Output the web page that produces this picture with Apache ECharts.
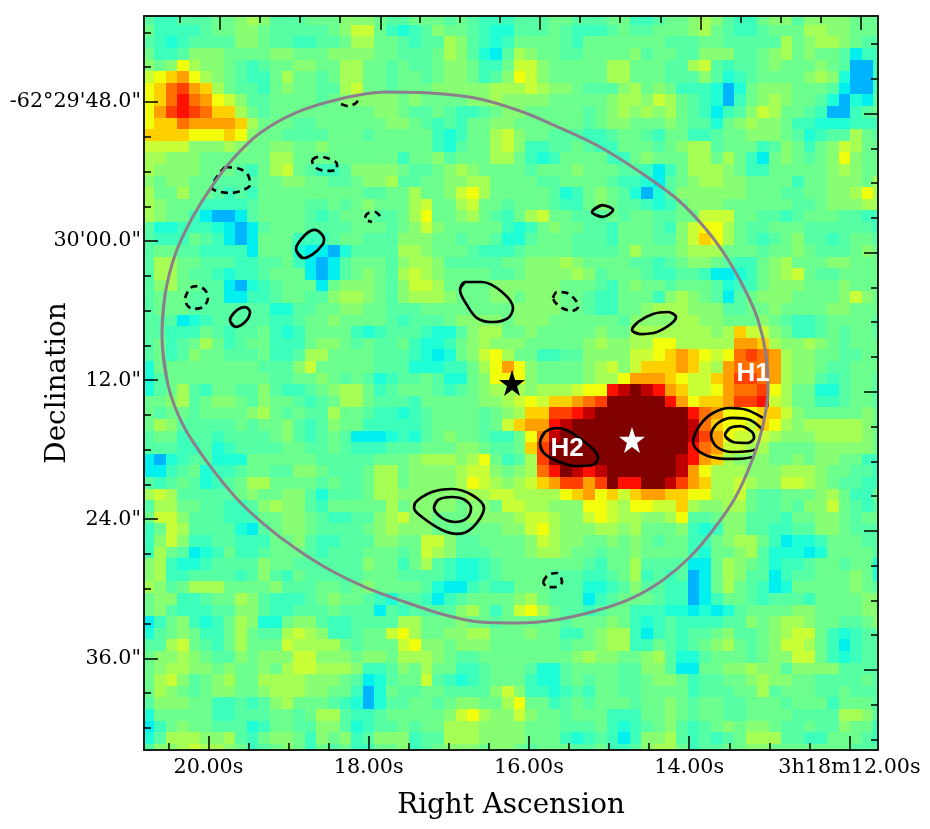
<!DOCTYPE html>
<html>
<head>
<meta charset="utf-8">
<title>Flux map</title>
<style>
  html, body { margin: 0; padding: 0; background: #fff; }
  #chart { width: 930px; height: 829px; }
</style>
<script src="https://cdn.jsdelivr.net/npm/echarts@6/dist/echarts.min.js"></script>
</head>
<body>
<div id="chart"></div>
<script>
// flux level of each map pixel, one base-17 digit per cell, top row first
const fluxRows = [
  '4334445567 6444555666 54 4555454333 4445544455 3345567643 3566466665 55',
  '5333345566 5444445688 53 2346554322 4445433345 4455567543 3455577665 55',
  '4323444466 5443344577 55 4344764323 5555435555 5554445544 4447567765 44',
  '5334666555 5665556666 55 4445764214 7655445555 6455446664 4567565541 33',
  '6569766543 4556655775 54 5445665335 8865555577 5554478434 4565556540 03',
  '89ab976543 3575545775 54 5545665346 9865555577 5554446423 4555567620 03',
  '9acdba7544 3565544785 54 5556666677 7876654446 7565333202 5666555410 03',
  '9acecb9864 4555545666 66 5655556676 6665555567 7687543203 5676554202 14',
  '9bdedcaa75 4555555555 66 5445433456 6555554567 6767543134 6875543003 45',
  '9aacbbbba7 5554455555 56 6543435566 5555554566 5556544256 7665332223 33',
  'aaaa999a96 5544445554 55 5553235578 6554443345 5435533455 6665423447 54',
  '8888666765 5665565555 55 5553245578 6334454335 5545677455 5346535687 55',
  '7766655555 5775555555 55 3556455577 5323555533 5655577575 3156545696 55',
  '7666655543 5785433466 66 5445676555 5455565554 4313577765 3355555676 55',
  '6566554444 5566554456 67 4455667755 5544555543 3214567766 5555355666 57',
  '7557554343 5555555554 45 5755689755 5554235654 2024666666 5554455667 97',
  '7655533334 5555445456 55 5785578554 5554335654 4323566655 5555445666 77',
  '7655310014 5555434555 44 5795567543 5785544454 5544558885 5443455544 33',
  '4223332101 4555444455 54 5686555553 2356554435 5543689975 4455544444 43',
  '4333543101 5553334554 44 6665545542 2455544435 554468a975 4345644345 54',
  '4554433331 5552110244 44 7765554333 4555544445 7555677755 5455654445 65',
  '4775544433 4453101455 54 6776444445 5666765555 4434566543 3567555665 55',
  '4775443233 4555101456 54 7876555544 5666676455 5433443112 3567854455 55',
  '4675544102 3455515666 54 6887555566 6666555435 6554555423 3566655565 55',
  '4555444113 3455446776 54 6777655566 5666554335 5536765414 5666555568 65',
  '4555444444 4224455665 54 4455555555 6666554335 5677766644 5565555665 55',
  '4441234444 4334556555 54 3444566665 6665555554 6666776655 5654334555 54',
  '4433354344 5323555532 34 4432246775 5655555655 777777767a 8865334545 54',
  '4534575345 5333566545 44 5322356766 6555556766 779977777b ba76676545 55',
  '4534655444 5334775555 44 4321256897 5533446666 889aba989c dcb7665544 55',
  '2555555555 4446855555 44 422233579b 9655556786 8aaaba87bc ccb7665445 55',
  '2455555555 5445565454 23 4454225699 9655556779 bbba988abd dcb7664345 54',
  '2457435544 6433456775 34 5554345677 76777899ef gfeba889bc cd97552245 54',
  '5567456654 6554345775 44 4355555667 898aabcdgg gggeb9aabd de87553345 54',
  '5455455556 7545447554 33 2345555456 7aaddefggg gggggecb99 9aa8655555 65',
  '5764444454 5564346553 33 3345555458 abbefggggg gggggfca99 8a97677777 65',
  '4553443444 4564345411 12 3245655433 59cfgggggg gggggfdb98 8876667777 65',
  '4443342344 4455445433 34 4455566544 5adggggggg gggggecb88 7755556666 65',
  '1023442225 5555544444 55 5677767953 47dggggggg ggggfeba76 6655656655 33',
  '1134523345 5446654445 77 5666678865 67cegfefgg ggggfb9777 6667776554 43',
  '4345423457 7555545445 77 5666679876 78abddbdge eggfdba778 7668876544 33',
  '7874444456 5566424445 77 6666667788 77779ab9a8 abbaa99778 5445556753 35',
  '4775544334 6766435555 57 5666656658 8776669987 9988a76677 5445466854 34',
  '5886444333 5566543344 67 8665556666 7887668987 7667944566 4443556654 55',
  '3587444421 4566544445 67 6665555556 6897666776 7555632366 4433446654 44',
  '3686334433 3556433444 66 5588644555 5687665565 6545533567 7531223555 44',
  '3754123533 4555434445 55 4587644455 5677655455 6555532556 7422212555 54',
  '6732234444 6554444446 55 3574322345 5555554355 7444411576 5423345545 52',
  '6733444434 6435444445 55 4444322345 5554443345 7343401576 4413445556 52',
  '7645777555 5644455456 55 5542113433 5554442234 6443301575 4312555556 54',
  '5663345576 4333456554 32 4431345555 6754441345 5543301355 4344435555 66',
  '5643334466 4334445444 14 3444467535 8975443455 3332212124 5555665555 66',
  '1356323576 2256643344 44 7755565545 5555455565 3234333344 6567765544 56',
  '2456533575 4478763345 58 9755667755 5655335677 3134344564 4567885323 44',
  '4478543575 5587777545 55 8966566655 5555455677 3354345675 4568875313 44',
  '5667654465 6668866656 65 7776544555 5555567665 5674224555 4566885323 44',
  '5677665655 6578877763 34 6575533455 5422455554 4664115566 7664666644 44',
  '5786456755 7777666541 24 5584323455 5322454554 4566534455 6766554444 54',
  '5765456655 6777665530 25 4455444468 6332343554 4555534445 5745554454 44',
  '4666553343 4675554320 24 4554566557 9553454555 4556545544 5554555355 54',
  '2555553344 4554577433 45 5555689766 8655455533 3556545544 5555444477 64',
  '1356554442 3554466423 44 5455777666 6555444532 3456434565 6654454465 53',
  '2477766743 5665365634 66 6344777666 6555323431 3667434345 7774433555 43',
  '4667877653 4565354533 55 6345666566 5455544533 4677534455 6655555554 44'
];
const fluxColors = ['#00b4ff', '#00f0f0', '#1effd8', '#3cffbc', '#56ffa3', '#6cff8e', '#88ff72', '#a6ff54', '#c8ff36',
  '#f2ff0c', '#ffd000', '#ffa000', '#ff7000', '#ff4000', '#ff1000', '#c00000', '#800000'];

// map sampling: right ascension seconds and declination arcseconds of the first cell
const raStart = 20.7515, raStep = -0.1448;
const decStart = 40.831, decStep = 1.0008;

// axis extents and ticks, RA seconds past 3h18m, Dec arcseconds past -62d29m
const raMin = 11.644, raMax = 20.804;
const decMin = 40.58, decMax = 103.91;
const raMajorBottom = [20, 18, 16, 14, 12];
const raMinorBottom = [20.5, 19.5, 19, 18.5, 17.5, 17, 16.5, 15.5, 15, 14.5, 13.5, 13, 12.5];
const raMajorTop = [19.864, 17.85, 15.862, 13.853, 11.856];
const raMinorTop = [20.363, 19.365, 18.866, 18.358, 17.359, 16.86, 16.361, 15.363, 14.864, 14.352, 13.353, 12.854, 12.355];
const decMajorLeft = [48, 60, 72, 84, 96];
const decMinorLeft = [42, 45, 51, 54, 57, 63, 66, 69, 75, 78, 81, 87, 90, 93, 99, 102];
const decMajorRight = [49, 61, 73, 85, 97];
const decMinorRight = [43, 46, 52, 55, 58, 64, 67, 70, 76, 79, 82, 88, 91, 94, 100, 103];
const decLabels = { 48: '-62°29\'48.0"', 60: '30\'00.0"', 72: '12.0"', 84: '24.0"', 96: '36.0"' };
const raLabels = { 20: '20.00s', 18: '18.00s', 16: '16.00s', 14: '14.00s', 12: '3h18m12.00s' };

// beam outline
const beamOutline = [[20.579,68.10],[20.542,64.65],[20.417,61.20],[20.23,58.35],[19.98,55.51],[19.706,53.0],[19.356,50.68],
  [18.919,48.95],[18.358,47.74],[17.796,47.14],[17.235,47.22],[16.673,47.66],[16.111,48.78],[15.612,50.24],[15.113,51.88],
  [14.614,54.04],[14.152,56.37],[13.803,58.87],[13.528,61.46],[13.303,64.22],[13.141,66.81],[13.041,69.83],[13.016,72.85],
  [13.079,75.87],[13.203,78.72],[13.428,82.17],[13.703,84.93],[13.99,87.26],[14.327,89.24],[14.714,90.80],[15.175,91.92],
  [15.675,92.69],[16.136,92.95],[16.611,92.87],[17.047,92.26],[17.547,91.14],[18.046,89.85],[18.483,88.38],[18.919,86.48],
  [19.294,84.50],[19.643,82.25],[20.018,79.06],[20.317,75.87],[20.504,72.42],[20.579,68.10]];

// closed positive contours
const solidContours = [
  [[18.907,60.68],[18.82,61.46],[18.695,61.12],[18.57,60.25],[18.557,59.82],[18.67,59.04],[18.795,59.48],[18.907,60.68]],
  [[19.731,66.81],[19.668,67.41],[19.543,66.98],[19.481,66.12],[19.543,65.69],[19.643,65.95],[19.731,66.81]],
  [[16.86,64.22],[16.798,63.53],[16.586,63.53],[16.336,64.39],[16.199,65.77],[16.261,66.64],[16.461,66.98],[16.648,66.64],[16.773,65.52],[16.86,64.22]],
  [[14.714,67.67],[14.614,68.02],[14.402,67.84],[14.214,67.07],[14.165,66.55],[14.264,66.12],[14.452,66.29],[14.639,66.98],[14.714,67.67]],
  [[15.213,57.49],[15.088,56.89],[14.951,57.32],[15.076,57.92],[15.213,57.49]],
  [[15.862,77.42],[15.799,76.47],[15.637,76.13],[15.425,76.73],[15.138,78.72],[15.2,79.32],[15.425,79.41],[15.675,78.89],[15.824,78.2],[15.862,77.42]],
  [[13.553,76.73],[13.491,76.13],[13.366,75.96],[13.216,76.47],[13.191,76.99],[13.278,77.42],[13.453,77.34],[13.553,76.73]],
  [[17.434,83.03],[17.334,83.81],[17.085,84.93],[16.898,85.27],[16.71,84.76],[16.561,83.03],[16.71,81.91],[16.96,81.39],[17.21,81.65],[17.422,82.6],[17.434,83.03]],
  [[17.185,83.03],[17.085,83.89],[16.923,84.24],[16.773,83.89],[16.723,83.03],[16.798,82.34],[16.96,82.08],[17.135,82.34],[17.185,83.03]]
];
// positive contours cut by the beam edge
const openContours = [
  [[13.079,75.26],[13.278,74.57],[13.491,74.4],[13.703,74.83],[13.865,75.87],[13.952,77.34],[13.865,78.2],[13.653,78.72],[13.403,78.8],[13.191,78.63]],
  [[13.079,76.3],[13.241,75.44],[13.453,75.26],[13.64,75.7],[13.728,76.73],[13.653,77.77],[13.453,78.2],[13.241,78.11],[13.154,77.94]]
];
// negative contours
const dashedContours = [
  [[20.292,64.91],[20.23,64.05],[20.142,63.88],[20.043,64.22],[20.005,64.91],[20.068,65.69],[20.192,65.86],[20.267,65.52],[20.292,64.91]],
  [[19.793,53.61],[19.606,53.78],[19.506,54.3],[19.481,55.16],[19.568,55.59],[19.731,55.85],[19.893,55.68],[19.955,55.42],[19.88,54.3],[19.793,53.61]],
  [[18.707,53.0],[18.645,52.75],[18.52,52.83],[18.395,53.35],[18.395,53.78],[18.508,53.95],[18.632,53.78],[18.695,53.35],[18.707,53.0]],
  [[18.345,48.17],[18.258,48.35],[18.146,48.0],[18.133,47.4]],
  [[17.859,57.84],[17.921,57.49],[18.021,57.66],[18.046,58.1],[17.958,58.35]],
  [[15.7,64.91],[15.65,64.39],[15.525,64.48],[15.4,65.26],[15.388,65.69],[15.462,66.03],[15.587,65.77],[15.675,65.26],[15.7,64.91]],
  [[15.824,89.41],[15.762,88.81],[15.65,88.64],[15.587,89.41],[15.675,89.85],[15.774,89.85],[15.824,89.41]]
];
const blackStar = [[16.211, 72.25]];
const whiteStar = [[14.714, 77.16]];
const sourceLabels = [{ name: 'H1', value: [13.204, 71.47] }, { name: 'H2', value: [15.525, 77.94] }];

const serif = '"DejaVu Serif"';
const starPath = 'path://M50 0 L61.8 35.3 L98.9 35.3 L69 57.3 L80 92.7 L50 71 L20 92.7 L31 57.3 L1.1 35.3 L38.2 35.3 Z';

let cells = [];
fluxRows.forEach((row, r) => {
  row.replace(/ /g, '').split('').forEach((c, i) => {
    cells.push([raStart + i * raStep, decStart + r * decStep, parseInt(c, 17)]);
  });
});

function renderCell(params, api) {
  const a = api.coord([api.value(0) - raStep / 2, api.value(1) - decStep / 2]);
  const b = api.coord([api.value(0) + raStep / 2, api.value(1) + decStep / 2]);
  const x = Math.round(a[0]), y = Math.round(a[1]);
  const rect = echarts.graphic.clipRectByRect(
    { x: x, y: y, width: Math.round(b[0]) - x, height: Math.round(b[1]) - y },
    params.coordSys
  );
  return rect && { type: 'rect', shape: rect, style: { fill: api.visual('color') } };
}

// overlap the ends of a closed loop so the smoothing leaves no corner at the seam
function loop(points) {
  return [points[points.length - 2]].concat(points, [points[1]]);
}

function xAxis(position, major, ticks, withLabels) {
  return {
    type: 'value', position: position, inverse: true, min: raMin, max: raMax, z: 3,
    name: withLabels ? 'Right Ascension' : '', nameLocation: 'middle', nameGap: 42, nameMoveOverlap: false,
    nameTextStyle: { fontFamily: serif, fontSize: 27.8, color: '#000' },
    splitLine: { show: false },
    axisLine: { show: true, onZero: false, lineStyle: { color: '#111', width: 1.5 } },
    axisTick: { inside: true, length: major ? 14 : 7, customValues: ticks, lineStyle: { color: '#000', width: 1.5 } },
    axisLabel: {
      show: withLabels, customValues: ticks, margin: 7, hideOverlap: false,
      fontFamily: serif, fontSize: 20.7, color: '#000',
      formatter: v => raLabels[v] || ''
    }
  };
}

function yAxis(position, major, ticks, withLabels) {
  return {
    type: 'value', position: position, inverse: true, min: decMin, max: decMax, z: 3,
    name: withLabels ? 'Declination' : '', nameLocation: 'middle', nameGap: 72, nameMoveOverlap: false,
    nameTextStyle: { fontFamily: serif, fontSize: 27.8, color: '#000' },
    splitLine: { show: false },
    axisLine: { show: true, onZero: false, lineStyle: { color: '#111', width: 1.5 } },
    axisTick: { inside: true, length: major ? 14 : 7, customValues: ticks, lineStyle: { color: '#000', width: 1.5 } },
    axisLabel: {
      show: withLabels, customValues: ticks, margin: 3, hideOverlap: false, padding: [8, 0, 0, 0],
      fontFamily: serif, fontSize: 20.7, color: '#000',
      formatter: v => decLabels[v] || ''
    }
  };
}

function contourSeries(points, dashed) {
  return {
    type: 'line', data: points, smooth: 0.33, showSymbol: false, silent: true, z: 2,
    lineStyle: { color: '#000', width: 2.7, type: dashed ? [7, 5] : 'solid' }
  };
}

let series = [{
  type: 'custom', data: cells, renderItem: renderCell, encode: { x: 0, y: 1 },
  progressive: 0, silent: true, z: 1
}];
solidContours.forEach(c => series.push(contourSeries(loop(c), false)));
openContours.forEach(c => series.push(contourSeries(c, false)));
dashedContours.forEach(c => series.push(contourSeries(c, true)));
series.push({
  type: 'line', data: loop(beamOutline), smooth: 0.33, showSymbol: false, silent: true, z: 2,
  lineStyle: { color: '#8a7f8a', width: 3 }
});
series.push({
  type: 'scatter', data: blackStar, symbol: starPath, symbolSize: 26, silent: true, z: 4,
  itemStyle: { color: '#000', opacity: 1 }
});
series.push({
  type: 'scatter', data: whiteStar, symbol: starPath, symbolSize: 26, silent: true, z: 4,
  itemStyle: { color: '#fff', opacity: 1 }
});
series.push({
  type: 'scatter', data: sourceLabels, symbolSize: 0, silent: true, z: 4,
  label: {
    show: true, position: 'inside', formatter: '{b}', color: '#fff', opacity: 1,
    fontFamily: '"Liberation Sans"', fontWeight: 'bold', fontSize: 26
  }
});

const chart = echarts.init(document.getElementById('chart'), null, { renderer: 'canvas' });
chart.setOption({
  animation: false,
  backgroundColor: '#fff',
  grid: { left: 144, top: 16, width: 734, height: 734, outerBoundsMode: 'none' },
  visualMap: {
    show: false, type: 'continuous', min: 0, max: 16, dimension: 2, seriesIndex: 0,
    inRange: { color: fluxColors }
  },
  xAxis: [
    xAxis('bottom', true, raMajorBottom, true),
    xAxis('bottom', false, raMinorBottom, false),
    xAxis('top', true, raMajorTop, false),
    xAxis('top', false, raMinorTop, false)
  ],
  yAxis: [
    yAxis('left', true, decMajorLeft, true),
    yAxis('left', false, decMinorLeft, false),
    yAxis('right', true, decMajorRight, false),
    yAxis('right', false, decMinorRight, false)
  ],
  series: series
});
</script>
</body>
</html>
